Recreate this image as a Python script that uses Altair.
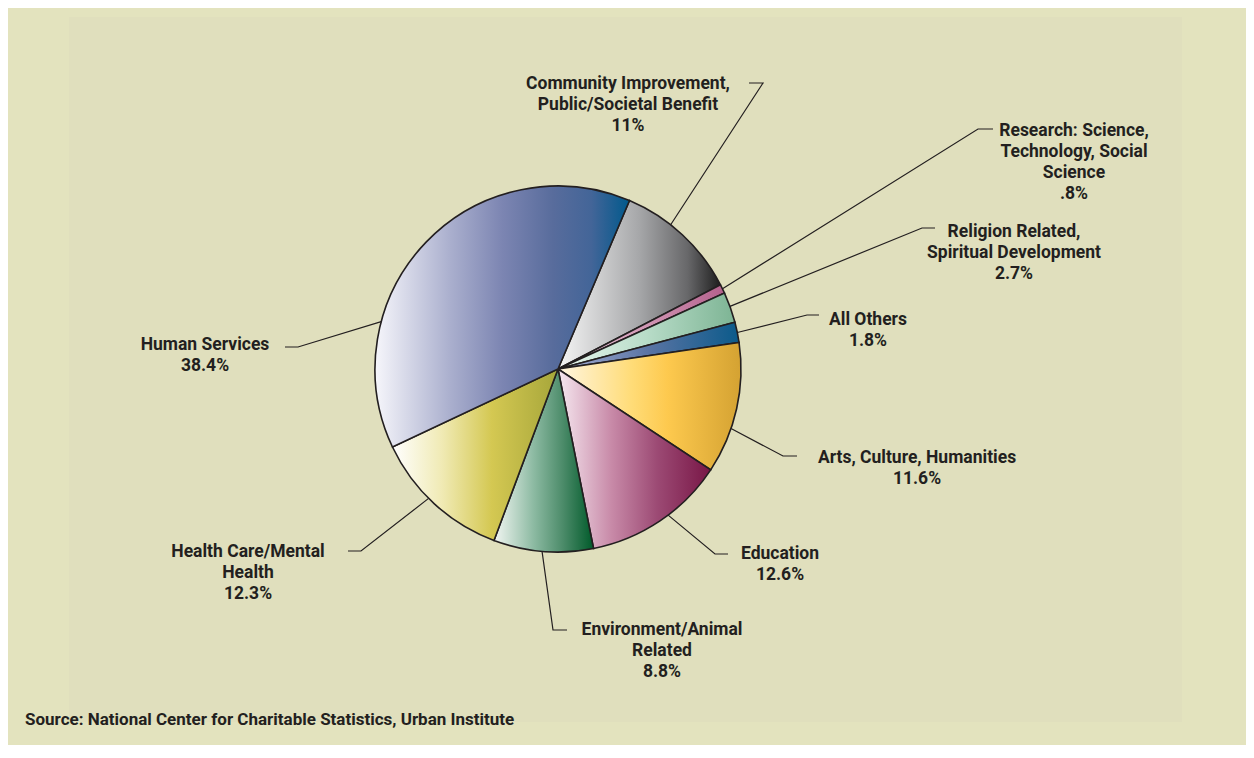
import math
import altair as alt
import pandas as pd

# ---------------- data ----------------
categories = [
    "Community Improvement, Public/Societal Benefit",
    "Research: Science, Technology, Social Science",
    "Religion Related, Spiritual Development",
    "All Others",
    "Arts, Culture, Humanities",
    "Education",
    "Environment/Animal Related",
    "Health Care/Mental Health",
    "Human Services",
]
label_lines = [
    "Community Improvement,\nPublic/Societal Benefit",
    "Research: Science,\nTechnology, Social\nScience",
    "Religion Related,\nSpiritual Development",
    "All Others",
    "Arts, Culture, Humanities",
    "Education",
    "Environment/Animal\nRelated",
    "Health Care/Mental\nHealth",
    "Human Services",
]
shares = [11, 0.8, 2.7, 1.8, 11.6, 12.6, 8.8, 12.3, 38.4]
share_text = ["11%", ".8%", "2.7%", "1.8%", "11.6%", "12.6%", "8.8%", "12.3%", "38.4%"]
source_text = "Source: National Center for Charitable Statistics, Urban Institute"

# ---------------- layout / style ----------------
OFF = 8                      # page margin
PAGE_W, PAGE_H = 1254, 758
CX, CY, R = 558, 369, 183    # pie centre & radius (page px)
START_DEG = 23               # rotation of first slice
INK = "#231f20"
FONT = "Roboto"

# label anchor (centre x, first baseline y)
label_pos = [(628, 89), (1074, 136), (1014, 237), (868, 325), (917, 463),
             (780, 559), (662, 635), (248, 557), (205, 350)]
# leader line: angle on pie edge (deg), elbow (x, y), end x
leader = [(38, (763, 83), 749), (64, (978, 129), 993), (70, (922, 228), 935),
          (78.5, (807, 315), 819), (109, (783, 456), 797), (143, (715, 554), 728),
          (185, (553, 630), 567), (225, (361, 551), 348), (285, (298, 347), 285)]

gradients = [
    [(0, "#f6f6f6"), (0.5, "#a6a7a9"), (0.8, "#676769"), (1, "#1e1e1e")],
    [(0, "#f2d4e2"), (1, "#b4608c")],
    [(0, "#eaf6ef"), (0.5, "#b8dcc8"), (1, "#7db494")],
    [(0, "#a8b0d6"), (0.5, "#5a74a4"), (1, "#0b5a8a")],
    [(0, "#fff6e2"), (0.4, "#ffdc78"), (0.6, "#fdc94e"), (1, "#d4a232")],
    [(0, "#f6e8f0"), (0.35, "#c88aa8"), (0.65, "#9c4a74"), (1, "#781646")],
    [(0, "#f2f6f2"), (0.4, "#8cbaa2"), (0.7, "#4a8a68"), (1, "#005a2a")],
    [(0, "#ffffff"), (0.3, "#f0eab4"), (0.6, "#d4c852"), (1, "#a6a63a")],
    [(0, "#f6f6fb"), (0.3, "#a9aecd"), (0.5, "#7c85b2"), (0.7, "#586c9c"),
     (0.85, "#436598"), (1, "#00598c")],
]

# ---------------- tables ----------------
starts, ends, acc = [], [], 0.0
for v in shares:
    starts.append(acc)
    acc += v
    ends.append(acc)
slices = pd.DataFrame({"idx": range(len(shares)), "cat": categories,
                       "share": shares, "start": starts, "end": ends})

rows = []
for i, (ang, (ex, ey), endx) in enumerate(leader):
    a = math.radians(ang)
    sx, sy = CX + R * math.sin(a), CY - R * math.cos(a)
    for k, (px, py) in enumerate([(sx, sy), (ex, ey), (endx, ey)]):
        rows.append({"key": categories[i], "ord": k, "x": px, "y": py})
lines_df = pd.DataFrame(rows)

labels_df = pd.DataFrame({
    "x": [p[0] for p in label_pos],
    "y": [p[1] for p in label_pos],
    "text": [f"{l}\n{s}" for l, s in zip(label_lines, share_text)],
})

W, H = PAGE_W - 2 * OFF, PAGE_H - 2 * OFF - 5
xs = alt.Scale(domain=[OFF, OFF + W], nice=False, zero=False)
ys = alt.Scale(domain=[OFF, OFF + H], nice=False, zero=False, reverse=True)
theta_scale = alt.Scale(domain=[0, 100],
                        range=[math.radians(START_DEG), math.radians(START_DEG) + 2 * math.pi])

panel = alt.Chart(pd.DataFrame({"a": [0]})).mark_rect(color="#e0dfbd").encode(
    x=alt.value(69 - OFF), x2=alt.value(1182 - OFF),
    y=alt.value(17 - OFF), y2=alt.value(722 - OFF))

arcs = []
for i, stops in enumerate(gradients):
    grad = alt.Gradient(gradient="linear", x1=0, y1=0, x2=1, y2=0,
                        stops=[alt.GradientStop(offset=o, color=c) for o, c in stops])
    arcs.append(
        alt.Chart(slices).transform_filter(alt.datum.idx == i)
        .mark_arc(radius=R, fill=grad, stroke=INK, strokeWidth=1.6)
        .encode(theta=alt.Theta("start:Q", scale=theta_scale), theta2="end:Q",
                x=alt.value(CX - OFF), y=alt.value(CY - OFF))
    )

lines = alt.Chart(lines_df).mark_line(color=INK, strokeWidth=1.2).encode(
    x=alt.X("x:Q", scale=xs, axis=None),
    y=alt.Y("y:Q", scale=ys, axis=None),
    detail="key:N", order="ord:O")

labels = alt.Chart(labels_df).mark_text(
    align="center", baseline="alphabetic", lineBreak="\n", lineHeight=21,
    font=FONT, fontWeight="bold", fontSize=17.5, color=INK).encode(
    x=alt.X("x:Q", scale=xs, axis=None),
    y=alt.Y("y:Q", scale=ys, axis=None),
    text="text:N")

source = alt.Chart(pd.DataFrame({"t": [source_text]})).mark_text(
    align="left", baseline="alphabetic", font=FONT, fontWeight="bold",
    fontSize=17, color=INK).encode(
    x=alt.value(25 - OFF), y=alt.value(725 - OFF), text="t:N")

chart = alt.layer(panel, *arcs, lines, labels, source).properties(
    width=W, height=H, padding=0, autosize="none", background="#e3e3be"
).configure_view(stroke=None)

chart.save("out.html", embed_options={"renderer": "svg", "actions": False})
